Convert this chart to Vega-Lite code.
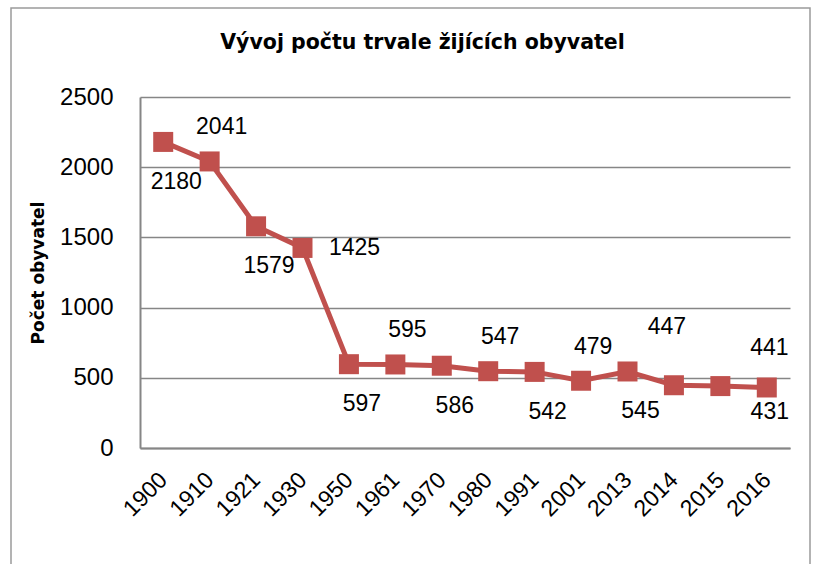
{
  "$schema": "https://vega.github.io/schema/vega-lite/v6.json",
  "width": 799,
  "height": 558,
  "autosize": {"type": "none"},
  "padding": {"left": 11, "top": 8, "right": 14, "bottom": -2},
  "background": "white",
  "title": {
    "text": "Vývoj počtu trvale žijících obyvatel",
    "font": "DejaVu Sans",
    "fontSize": 20.5,
    "fontWeight": "bold",
    "color": "black",
    "anchor": "middle",
    "frame": "group",
    "dx": 12,
    "dy": 40,
    "offset": -21,
    "baseline": "alphabetic"
  },
  "data": {
    "values": [
      {"year": "1900", "value": 2180, "pos": "below"},
      {"year": "1910", "value": 2041, "pos": "above"},
      {"year": "1921", "value": 1579, "pos": "below"},
      {"year": "1930", "value": 1425, "pos": "right"},
      {"year": "1950", "value": 597, "pos": "below"},
      {"year": "1961", "value": 595, "pos": "above"},
      {"year": "1970", "value": 586, "pos": "below"},
      {"year": "1980", "value": 547, "pos": "above"},
      {"year": "1991", "value": 542, "pos": "below"},
      {"year": "2001", "value": 479, "pos": "above"},
      {"year": "2013", "value": 545, "pos": "below"},
      {"year": "2014", "value": 447, "pos": "aboveLeft"},
      {"year": "2015", "value": 441, "pos": "aboveRight"},
      {"year": "2016", "value": 431, "pos": "belowNear"}
    ]
  },
  "encoding": {
    "x": {
      "field": "year",
      "type": "ordinal",
      "sort": null,
      "scale": {"type": "point", "padding": 0.5, "range": [129, 779]},
      "axis": {
        "title": null,
        "offset": -118,
        "labelAngle": -45,
        "labelAlign": "right",
        "labelBaseline": "middle",
        "labelFont": "Liberation Sans",
        "labelFontSize": 23,
        "labelColor": "black",
        "labelPadding": 28,
        "ticks": false,
        "domainColor": "#868686",
        "domainWidth": 2,
        "grid": false
      }
    },
    "y": {
      "field": "value",
      "type": "quantitative",
      "scale": {"domain": [0, 2500], "nice": false, "range": [440, 89]},
      "axis": {
        "title": "Počet obyvatel",
        "offset": -129,
        "titleFont": "DejaVu Sans",
        "titleFontSize": 17,
        "titleFontWeight": "bold",
        "titleColor": "black",
        "titlePadding": 12,
        "values": [0, 500, 1000, 1500, 2000, 2500],
        "format": "d",
        "labelFont": "Liberation Sans",
        "labelFontSize": 24,
        "labelColor": "black",
        "labelPadding": 27,
        "labelFlush": false,
        "labelOverlap": false,
        "ticks": false,
        "domainColor": "#868686",
        "domainWidth": 2,
        "grid": true,
        "gridColor": "#868686",
        "gridWidth": 1.3
      }
    }
  },
  "layer": [
    {"mark": {"type": "line", "color": "#C0504D", "strokeWidth": 5}},
    {"mark": {"type": "point", "shape": "square", "filled": true, "size": 400, "color": "#C0504D", "opacity": 1}},
    {
      "transform": [{"filter": "datum.pos == 'below'"}],
      "mark": {"type": "text", "dx": 13, "dy": 40, "font": "Liberation Sans", "fontSize": 23, "color": "black", "align": "center", "baseline": "middle"},
      "encoding": {"text": {"field": "value", "type": "quantitative", "format": "d"}}
    },
    {
      "transform": [{"filter": "datum.pos == 'above'"}],
      "mark": {"type": "text", "dx": 12, "dy": -34, "font": "Liberation Sans", "fontSize": 23, "color": "black", "align": "center", "baseline": "middle"},
      "encoding": {"text": {"field": "value", "type": "quantitative", "format": "d"}}
    },
    {
      "transform": [{"filter": "datum.pos == 'right'"}],
      "mark": {"type": "text", "dx": 52, "dy": 0, "font": "Liberation Sans", "fontSize": 23, "color": "black", "align": "center", "baseline": "middle"},
      "encoding": {"text": {"field": "value", "type": "quantitative", "format": "d"}}
    },
    {
      "transform": [{"filter": "datum.pos == 'aboveLeft'"}],
      "mark": {"type": "text", "dx": -7, "dy": -58, "font": "Liberation Sans", "fontSize": 23, "color": "black", "align": "center", "baseline": "middle"},
      "encoding": {"text": {"field": "value", "type": "quantitative", "format": "d"}}
    },
    {
      "transform": [{"filter": "datum.pos == 'aboveRight'"}],
      "mark": {"type": "text", "dx": 49, "dy": -38, "font": "Liberation Sans", "fontSize": 23, "color": "black", "align": "center", "baseline": "middle"},
      "encoding": {"text": {"field": "value", "type": "quantitative", "format": "d"}}
    },
    {
      "transform": [{"filter": "datum.pos == 'belowNear'"}],
      "mark": {"type": "text", "dx": 3, "dy": 25, "font": "Liberation Sans", "fontSize": 23, "color": "black", "align": "center", "baseline": "middle"},
      "encoding": {"text": {"field": "value", "type": "quantitative", "format": "d"}}
    }
  ],
  "config": {
    "view": {"stroke": "#9a9a9a", "strokeWidth": 1.5}
  }
}
